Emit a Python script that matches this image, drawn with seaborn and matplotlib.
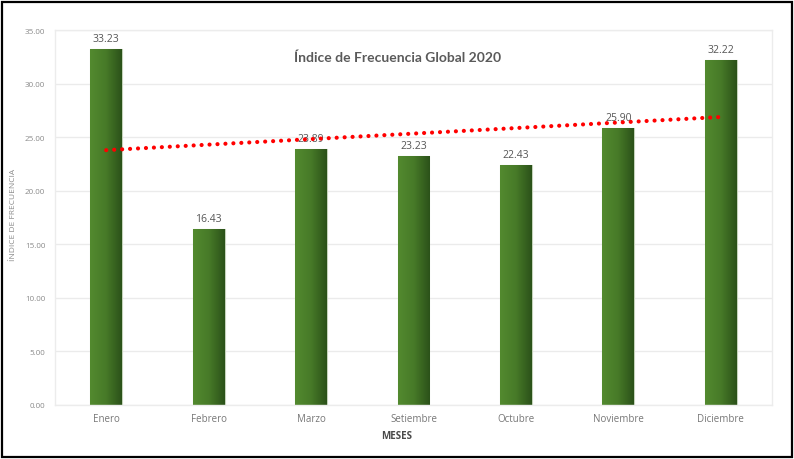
import numpy as np
import pandas as pd
import matplotlib
matplotlib.use("Agg")
import matplotlib.pyplot as plt
import seaborn as sns
from matplotlib.colors import LinearSegmentedColormap
from matplotlib.patches import Rectangle

# Monthly global frequency index, 2020
meses = ["Enero", "Febrero", "Marzo", "Setiembre", "Octubre", "Noviembre", "Diciembre"]
indice = [33.23, 16.43, 23.89, 23.23, 22.43, 25.90, 32.22]
y_ticks = [0, 5, 10, 15, 20, 25, 30, 35]

sns.set_theme(style="white")
plt.rcParams['font.family'] = ['Open Sans', 'DejaVu Sans']

W, H = 794, 460
fig = plt.figure(figsize=(W / 100, H / 100), dpi=100)
fig.patch.set_facecolor("white")

left, right, top, bottom = 55, 772, 31, 406
ax = fig.add_axes([left / W, 1 - bottom / H, (right - left) / W, (bottom - top) / H])

df = pd.DataFrame({"mes": meses, "indice": indice})
sns.barplot(data=df, x="mes", y="indice", ax=ax, width=0.31,
            color="#3f6f25", edgecolor="#c5d3bb", linewidth=0.8, zorder=2)

# horizontal green gradient inside each bar
grad_cmap = LinearSegmentedColormap.from_list("bar_green", ["#538a2f", "#477a28", "#2b5119"])
gradient = np.linspace(0, 1, 256).reshape(1, -1)
for patch in list(ax.patches):
    x0, w = patch.get_x(), patch.get_width()
    h = patch.get_height()
    im = ax.imshow(gradient, cmap=grad_cmap, aspect="auto",
                   extent=[x0, x0 + w, 0, h], zorder=2.5, interpolation="bilinear")
    im.set_clip_path(patch)

# linear trend across the months
xs = np.arange(len(indice))
slope, intercept = np.polyfit(xs, indice, 1)
ax.plot([xs[0], xs[-1]], [intercept + slope * xs[0], intercept + slope * xs[-1]],
        color="#ff0000", linewidth=3.0, linestyle=(0, (0.01, 1.9)),
        dash_capstyle="round", zorder=4)

# value labels above the bars
for i, v in enumerate(indice):
    ax.text(i, v + 0.45, f"{v:.2f}", ha="center", va="bottom",
            fontsize=7.5, color="#555555", zorder=3)

ax.set_xlim(-0.5, len(meses) - 0.5)
ax.set_ylim(0, 35)
ax.set_yticks(y_ticks)
ax.set_yticklabels([f"{t:.2f}" for t in y_ticks])
ax.tick_params(axis="y", labelsize=5.8, labelcolor="#8a8a8a", length=0, pad=7)
ax.tick_params(axis="x", labelsize=7, labelcolor="#777777", length=0, pad=6)
ax.set_xlabel("")
ax.set_ylabel("")
ax.yaxis.grid(True, color="#ebebeb", linewidth=1.0, zorder=0)
ax.set_axisbelow(True)
for s in ax.spines.values():
    s.set_color("#ececec")
    s.set_linewidth(1.0)

fig.text(398 / W, 1 - 58 / H, "Índice de Frecuencia Global 2020", ha="center", va="center",
         fontsize=10, fontweight="bold", color="#5a5a5a", family=["Lato", "DejaVu Sans"])
fig.text(14 / W, 1 - 215 / H, "ÍNDICE DE FRECUENCIA", rotation=90, ha="center", va="center",
         fontsize=6, color="#8a8a8a")
fig.text(397 / W, 1 - 437 / H, "MESES", ha="center", va="center",
         fontsize=7, fontweight="bold", color="#4a4a4a")

# outer frame
fig.patches.append(Rectangle((1.5 / W, 2.5 / H), (791.5 - 1.5) / W, (457.5 - 2.5) / H,
                             transform=fig.transFigure, fill=False,
                             edgecolor="black", linewidth=1.6))

fig.savefig("out.png", dpi=100)
